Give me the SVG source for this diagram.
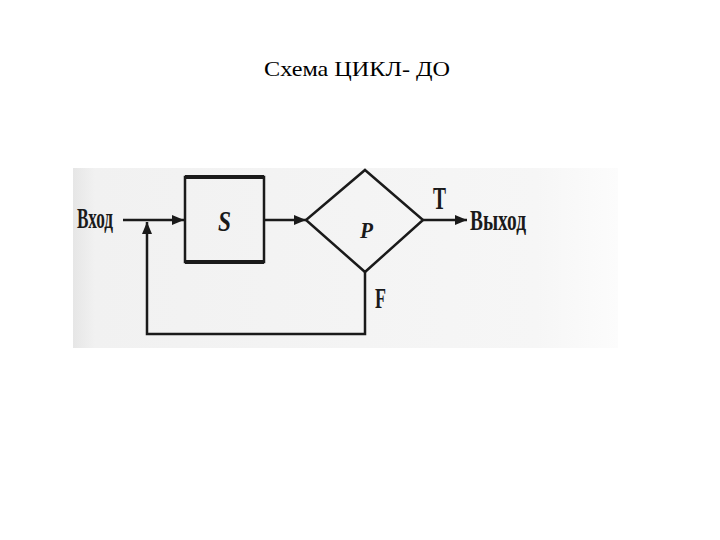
<svg xmlns="http://www.w3.org/2000/svg" width="720" height="540" viewBox="0 0 720 540">
<defs>
<linearGradient id="scan" x1="0" y1="0" x2="1" y2="0">
<stop offset="0" stop-color="#e6e6e6"/>
<stop offset="0.04" stop-color="#f1f1f1"/>
<stop offset="0.85" stop-color="#f6f6f6"/>
<stop offset="1" stop-color="#fcfcfc"/>
</linearGradient>
<marker id="arr" viewBox="0 0 12 10" refX="12" refY="5" markerWidth="12" markerHeight="10" markerUnits="userSpaceOnUse" orient="auto">
<path d="M0,0 L12,5 L0,10 z" fill="#1a1a1a"/>
</marker>
<style>
.ln{fill:none;stroke:#1a1a1a;stroke-width:2.5}
.lbl{font-family:"Liberation Serif","DejaVu Serif",serif;fill:#1a1a1a;font-weight:bold}
.ttl{font-family:"Liberation Serif","DejaVu Serif",serif;font-size:22px;fill:#000}
</style>
</defs>
<rect width="720" height="540" fill="#ffffff"/>
<text class="ttl" x="264" y="76" textLength="186" lengthAdjust="spacingAndGlyphs">Схема ЦИКЛ- ДО</text>
<rect x="73" y="168" width="545" height="180" fill="url(#scan)"/>
<g id="connectors">
<line class="ln" x1="123" y1="220" x2="184" y2="220" marker-end="url(#arr)"/>
<line class="ln" x1="264" y1="220" x2="306" y2="220" marker-end="url(#arr)"/>
<line class="ln" x1="423" y1="220" x2="467" y2="220" marker-end="url(#arr)"/>
<polyline class="ln" points="365,272 365,334 147,334 147,222" marker-end="url(#arr)"/>
</g>
<g id="input">
<text class="lbl" x="77" y="228" font-size="30" textLength="36" lengthAdjust="spacingAndGlyphs">Вход</text>
</g>
<g id="S">
<rect x="185" y="177" width="79" height="85" fill="none" stroke="#1a1a1a" stroke-width="2.5"/>
<line x1="185" y1="177" x2="264" y2="177" stroke="#1a1a1a" stroke-width="4"/>
<line x1="185" y1="262" x2="264" y2="262" stroke="#1a1a1a" stroke-width="4"/>
<text class="lbl" x="218" y="231" font-size="30" font-style="italic" textLength="13" lengthAdjust="spacingAndGlyphs">S</text>
</g>
<g id="P">
<polygon points="365,170 423,220 365,272 306,220" fill="none" stroke="#1a1a1a" stroke-width="2.5"/>
<text class="lbl" x="360" y="238" font-size="24" font-style="italic" font-weight="normal" textLength="13" lengthAdjust="spacingAndGlyphs">P</text>
</g>
<g id="labels">
<text class="lbl" x="433" y="209" font-size="32" textLength="13" lengthAdjust="spacingAndGlyphs">T</text>
<text class="lbl" x="375" y="308" font-size="30" textLength="11" lengthAdjust="spacingAndGlyphs">F</text>
</g>
<g id="output">
<text class="lbl" x="470" y="230" font-size="30" textLength="56" lengthAdjust="spacingAndGlyphs">Выход</text>
</g>
</svg>
